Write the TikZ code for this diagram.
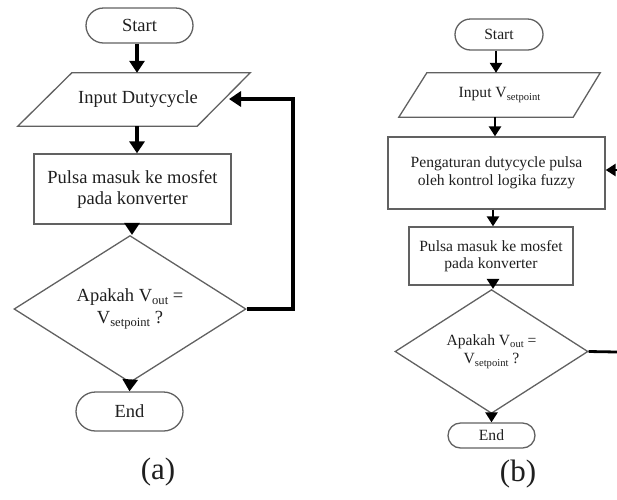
\documentclass[tikz,border=0pt]{standalone}
\usepackage{fontspec}
\usepackage{graphicx}
\setmainfont{Liberation Serif}
\usetikzlibrary{shapes.geometric,shapes.misc,arrows.meta}
\newcommand\lowsub[1]{\raisebox{-0.15em}{\scalebox{0.68}{#1}}}
\definecolor{edge}{gray}{0.38}
\definecolor{ink}{gray}{0.12}
\tikzset{
  shp/.style={draw=edge, line width=1.3pt, text=ink, inner sep=0pt, align=center},
  terma/.style={shp, rounded rectangle},
  boxa/.style={shp, rectangle},
  decide/.style={shp, diamond},
  txtA/.style={font=\fontsize{18.5}{21}\selectfont},
  txtB/.style={font=\fontsize{15.6}{17.5}\selectfont},
  flowA/.style={line width=3.4pt, -{Triangle[length=12pt,width=15pt]}},
  flowB/.style={line width=2.8pt, -{Triangle[length=10pt,width=12pt]}},
  loopB/.style={line width=2.8pt},
  captxt/.style={font=\fontsize{31}{33}\selectfont, text=ink}
}
\begin{document}
\begin{tikzpicture}[x=1pt,y=-1pt]
\useasboundingbox (0,0) rectangle (617,499);
% ---------- (a) ----------
\node[terma, txtA, minimum width=107pt, minimum height=35pt] (sA) at (139.5,25.5) {Start};
\node[inner sep=0pt, txtA, text=ink, minimum width=232pt, minimum height=53pt] (iA) at (134,99.5) {\hspace*{8pt}Input Dutycycle};
\draw[edge, line width=1.3pt] ([xshift=54pt]iA.north west) -- (iA.north east) -- ([xshift=-53pt]iA.south east) -- (iA.south west) -- cycle;
\node[boxa, txtA, minimum width=197pt, minimum height=70pt] (pA) at (132.5,189) {Pulsa masuk ke mosfet\\pada konverter};
\node[decide, txtA, minimum width=232pt, minimum height=108pt] (dA) at (130,309) {Apakah V\lowsub{out} =\\[1pt]V\lowsub{setpoint} ?};
\node[terma, txtA, minimum width=107pt, minimum height=39pt] (eA) at (129.5,411.5) {End};
\coordinate (rA1) at (293,309);
\coordinate (rA2) at (293,99);
\coordinate (tA) at (229,99);
\draw[flowA] (sA.south -| 137,0) -- (iA.north -| 137,0);
\draw[flowA] (iA.south -| 137,0) -- (pA.north -| 137,0);
\draw[flowA] (pA.south -| 132,0) -- (dA.north -| 132,0);
\draw[flowA] (dA.south) -- (eA.north);
\draw[flowA] (dA.east) -- (rA1) -- (rA2) -- (tA);
\node[captxt] (cA) at (158,472) {(a)};
% ---------- (b) ----------
\node[terma, txtB, minimum width=88pt, minimum height=31pt] (sB) at (499,34.5) {Start};
\node[inner sep=0pt, txtB, text=ink, minimum width=201pt, minimum height=44pt] (iB) at (499.5,95) {Input V\lowsub{setpoint}};
\draw[edge, line width=1.3pt] ([xshift=28pt]iB.north west) -- (iB.north east) -- ([xshift=-27pt]iB.south east) -- (iB.south west) -- cycle;
\node[boxa, txtB, minimum width=217pt, minimum height=72pt] (pB) at (496.5,173) {Pengaturan dutycycle pulsa\\oleh kontrol logika fuzzy};
\node[boxa, txtB, minimum width=164pt, minimum height=58pt] (qB) at (491,256) {Pulsa masuk ke mosfet\\pada konverter};
\node[decide, txtB, minimum width=193pt, minimum height=89pt] (dB) at (491.5,351.5) {Apakah V\lowsub{out} =\\[1pt]V\lowsub{setpoint} ?};
\node[terma, txtB, minimum width=87pt, minimum height=25pt] (eB) at (491.5,435.5) {End};
\coordinate (rB) at (617,352);
\coordinate (fB) at (617,170);
\draw[flowB] (sB.south -| 496,0) -- (iB.north -| 496,0);
\draw[flowB] (iB.south -| 495,0) -- (pB.north -| 495,0);
\draw[flowB] (pB.south -| 493,0) -- (qB.north -| 493,0);
\draw[flowB] (qB.south -| 493,0) -- (dB.north -| 493,0);
\draw[flowB] (dB.south) -- (eB.north);
\draw[loopB] (dB.east) -- (rB);
\draw[flowB] (fB) -- (pB.east |- fB);
\node[captxt] (cB) at (518,474) {(b)};
\end{tikzpicture}
\end{document}
